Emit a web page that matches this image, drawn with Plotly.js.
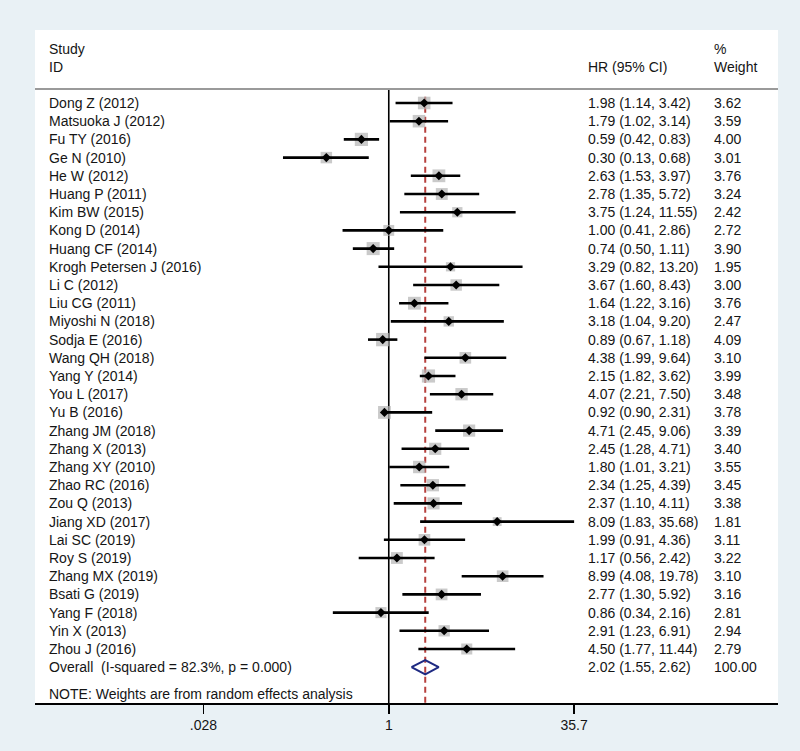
<!DOCTYPE html>
<html>
<head>
<meta charset="utf-8">
<script src="https://cdn.plot.ly/plotly-3.0.1.min.js"></script>
<style>html,body{margin:0;padding:0;background:#e9f1f5;}#chart{width:800px;height:751px;}</style>
</head>
<body>
<div id="chart"></div>
<script>
const studies = ["Dong Z (2012)","Matsuoka J (2012)","Fu TY (2016)","Ge N (2010)","He W (2012)","Huang P (2011)","Kim BW (2015)","Kong D (2014)","Huang CF (2014)","Krogh Petersen J (2016)","Li C (2012)","Liu CG (2011)","Miyoshi N (2018)","Sodja E (2016)","Wang QH (2018)","Yang Y (2014)","You L (2017)","Yu B (2016)","Zhang JM (2018)","Zhang X (2013)","Zhang XY (2010)","Zhao RC (2016)","Zou Q (2013)","Jiang XD (2017)","Lai SC (2019)","Roy S (2019)","Zhang MX (2019)","Bsati G (2019)","Yang F (2018)","Yin X (2013)","Zhou J (2016)"];
const hr     = [1.98,1.79,0.59,0.30,2.63,2.78,3.75,1.00,0.74,3.29,3.67,1.64,3.18,0.89,4.38,2.15,4.07,0.92,4.71,2.45,1.80,2.34,2.37,8.09,1.99,1.17,8.99,2.77,0.86,2.91,4.50];
const lower  = [1.14,1.02,0.42,0.13,1.53,1.35,1.24,0.41,0.50,0.82,1.60,1.22,1.04,0.67,1.99,1.82,2.21,0.90,2.45,1.28,1.01,1.25,1.10,1.83,0.91,0.56,4.08,1.30,0.34,1.23,1.77];
const upper  = [3.42,3.14,0.83,0.68,3.97,5.72,11.55,2.86,1.11,13.20,8.43,3.16,9.20,1.18,9.64,3.62,7.50,2.31,9.06,4.71,3.21,4.39,4.11,35.68,4.36,2.42,19.78,5.92,2.16,6.91,11.44];
const weight = [3.62,3.59,4.00,3.01,3.76,3.24,2.42,2.72,3.90,1.95,3.00,3.76,2.47,4.09,3.10,3.99,3.48,3.78,3.39,3.40,3.55,3.45,3.38,1.81,3.11,3.22,3.10,3.16,2.81,2.94,2.79];
const overallLabel = "Overall\u00a0\u00a0(I-squared = 82.3%, p = 0.000)";
const overallHR = 2.02, overallLower = 1.55, overallUpper = 2.62, overallWeight = "100.00";
const tickVals = [0.028, 1, 35.7];
const tickText = [".028", "1", "35.7"];
const noteText = "NOTE: Weights are from random effects analysis";

const rows = studies.map((_, i) => i);
const overallRow = studies.length;
const fmt = v => v.toFixed(2);
const ciText = hr.map((h, i) => fmt(h) + " (" + fmt(lower[i]) + ", " + fmt(upper[i]) + ")");
const FONT = "Liberation Sans, Arial, Helvetica, sans-serif";
const TXT = "#151515";

const yTop = -4.011, yBottom = 32.967, headerLine = -0.769;

const traces = [];
traces.push({x:[1,1], y:[headerLine, yBottom], mode:"lines", line:{color:"#000", width:1.6}, hoverinfo:"skip", showlegend:false});
traces.push({x:[overallHR, overallHR], y:[-0.35, yBottom], mode:"lines", line:{color:"#b7413e", width:2, dash:"6px,4px"}, hoverinfo:"skip", showlegend:false});
traces.push({x:hr, y:rows, mode:"markers", marker:{symbol:"square", color:"#b3b3b3", size:weight.map(w => 6.6*Math.sqrt(w)), line:{width:0}}, hoverinfo:"skip", showlegend:false});
traces.push({x:hr, y:rows, mode:"markers", marker:{opacity:0, size:1},
  error_x:{type:"data", symmetric:false, array:hr.map((h,i)=>upper[i]-h), arrayminus:hr.map((h,i)=>h-lower[i]), color:"#000", thickness:2.6, width:0},
  hoverinfo:"skip", showlegend:false});
traces.push({x:hr, y:rows, mode:"markers", marker:{symbol:"diamond", color:"#000", size:7, line:{width:0}}, hoverinfo:"skip", showlegend:false});
const dh = 0.39;
traces.push({x:[overallLower, overallHR, overallUpper, overallHR, overallLower],
  y:[overallRow, overallRow-dh, overallRow, overallRow+dh, overallRow],
  mode:"lines", line:{color:"#1e2a82", width:2}, hoverinfo:"skip", showlegend:false});

const px = p => (p - 35) / 743;
const annotations = [];
function addText(x, y, text) {
  annotations.push({xref:"paper", yref:"y", x:x, y:y, text:text, showarrow:false, xanchor:"left", yanchor:"middle", font:{family:FONT, size:14, color:TXT}});
}
addText(px(47), -2.967, "Study");
addText(px(47), -1.978, "ID");
addText(px(586), -1.978, "HR (95% CI)");
addText(px(712), -2.967, "%");
addText(px(712), -1.978, "Weight");
studies.forEach((s, i) => {
  addText(px(47), i, s);
  addText(px(586), i, ciText[i]);
  addText(px(712), i, fmt(weight[i]));
});
addText(px(47), overallRow, overallLabel);
addText(px(586), overallRow, fmt(overallHR) + " (" + fmt(overallLower) + ", " + fmt(overallUpper) + ")");
addText(px(712), overallRow, overallWeight);
addText(px(47), 32.45, noteText);

const layout = {
  width:800, height:751,
  margin:{l:35, r:22, t:30, b:48, pad:0},
  paper_bgcolor:"#e9f1f5",
  plot_bgcolor:"#ffffff",
  showlegend:false,
  font:{family:FONT, size:14, color:TXT},
  xaxis:{type:"log", range:[-2.963, 3.260], autorange:false, showgrid:false, zeroline:false,
    showline:true, linecolor:"#000", linewidth:1.6, ticks:"outside", ticklen:9, tickwidth:1.6, tickcolor:"#000",
    tickvals:tickVals, ticktext:tickText, tickfont:{family:FONT, size:14, color:TXT}, fixedrange:true},
  yaxis:{range:[yBottom, yTop], autorange:false, showgrid:false, zeroline:false, showline:false,
    showticklabels:false, ticks:"", fixedrange:true},
  shapes:[{type:"line", xref:"paper", yref:"y", x0:0, x1:1, y0:headerLine, y1:headerLine, line:{color:"#9a9a9a", width:2}}],
  annotations:annotations
};
Plotly.newPlot("chart", traces, layout, {displayModeBar:false, staticPlot:true});
</script>
</body>
</html>
